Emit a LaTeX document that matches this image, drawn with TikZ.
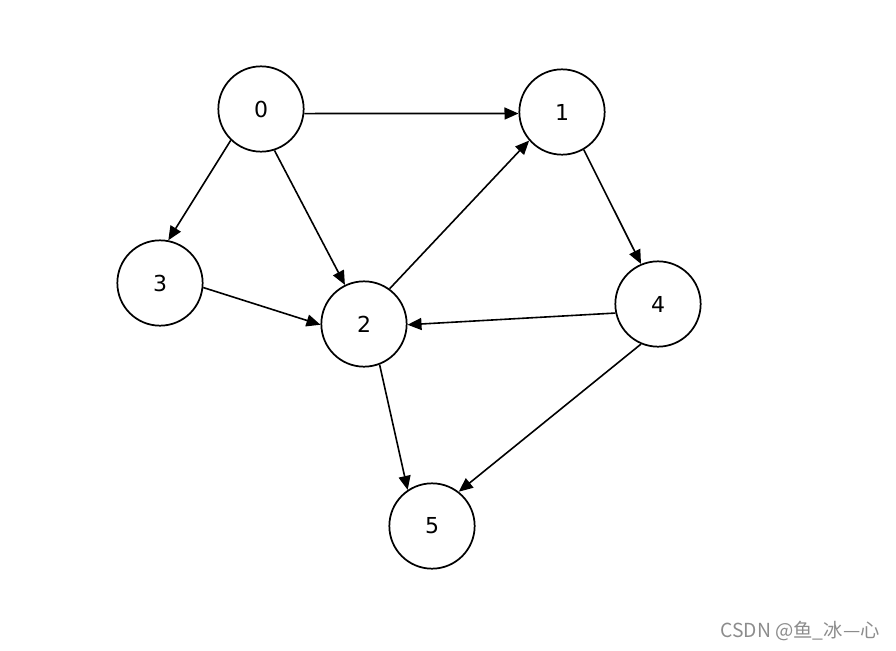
\documentclass[tikz,border=0pt]{standalone}
\usepackage{fontspec}
\setmainfont{DejaVu Sans}
\newfontfamily\cjkfont{Noto Sans CJK SC}
\usetikzlibrary{arrows.meta}
\begin{document}
\begin{tikzpicture}[x=0.75pt,y=-0.75pt,
  vtx/.style={circle,draw,line width=1.3pt,minimum size=64pt,inner sep=0pt,font=\fontsize{16.5}{19}\selectfont},
  edge/.style={line width=1.2pt,-{Triangle[length=10.5pt,width=9pt]}}]
\useasboundingbox (0,0) rectangle (896,650);
\node[vtx] (n0) at (261,109) {0};
\node[vtx] (n1) at (562,112) {1};
\node[vtx] (n3) at (160,283) {3};
\node[vtx] (n2) at (364,324) {2};
\node[vtx] (n4) at (658,304) {4};
\node[vtx] (n5) at (432,526) {5};
\draw[edge] (n0.-6.5) -- (n1.182.6);
\draw[edge] (n0.-134) -- (n3.79);
\draw[edge] (n0.-72) -- (n2.116.6);
\draw[edge] (n3.-6.6) -- (n2.181);
\draw[edge] (n2.54.6) -- (n1.-139);
\draw[edge] (n1.-60) -- (n4.113);
\draw[edge] (n4.-168) -- (n2.-1);
\draw[edge] (n2.-69) -- (n5.124.8);
\draw[edge] (n4.-113.7) -- (n5.52.6);
\node[anchor=east,text=black!45,font=\cjkfont\fontsize{14.5}{17}\selectfont,inner sep=0pt] (wm) at (880,631) {CSDN @鱼\_冰—心};
\end{tikzpicture}
\end{document}
